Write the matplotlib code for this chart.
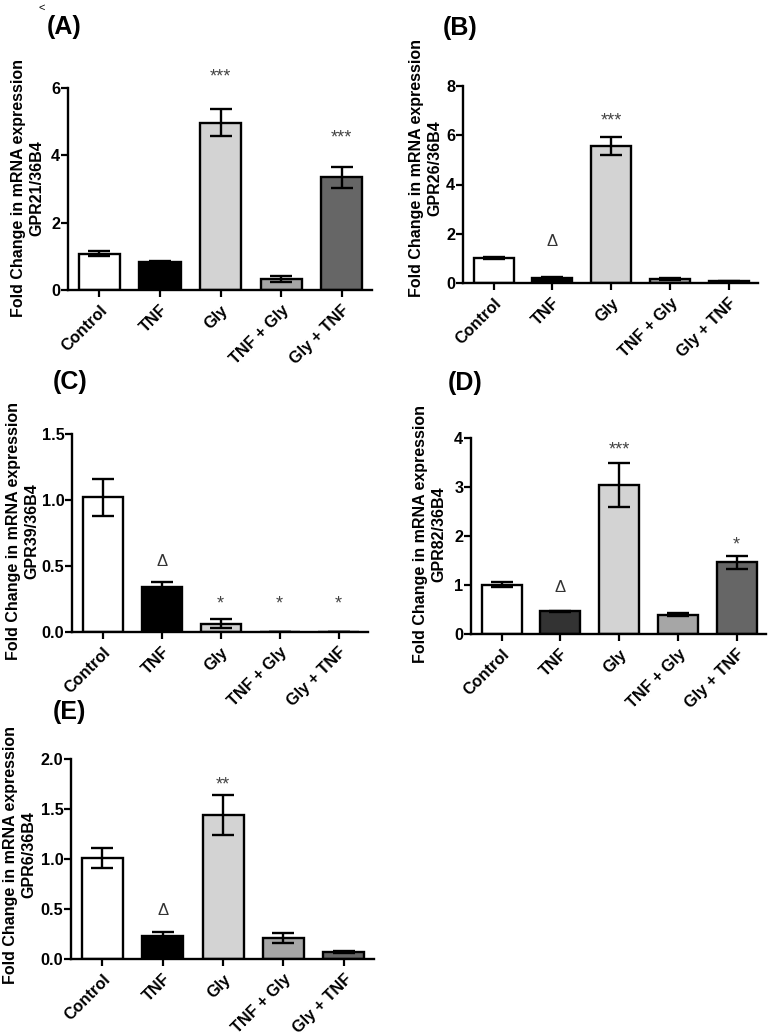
import matplotlib
matplotlib.use("Agg")
import matplotlib.pyplot as plt
import numpy as np

plt.rcParams["font.family"] = ["Liberation Sans", "DejaVu Sans"]
plt.rcParams["font.weight"] = "bold"

FIG_W, FIG_H = 771, 1034

CATEGORIES = ["Control", "TNF", "Gly", "TNF + Gly", "Gly + TNF"]

# panel A - GPR21
GPR21_MEAN = [1.08, 0.82, 4.97, 0.34, 3.35]
GPR21_SEM = [0.07, 0.04, 0.40, 0.09, 0.31]
GPR21_MARKS = ["", "", "***", "", "***"]
GPR21_MARK_Y = [0, 0, 6.5, 0, 4.7]

# panel B - GPR26
GPR26_MEAN = [1.01, 0.22, 5.56, 0.16, 0.07]
GPR26_SEM = [0.05, 0.03, 0.37, 0.04, 0.01]
GPR26_MARKS = ["", "\u0394", "***", "", ""]
GPR26_MARK_Y = [0, 1.73, 6.85, 0, 0]

# panel C - GPR39
GPR39_MEAN = [1.02, 0.34, 0.064, 0.0, 0.0]
GPR39_SEM = [0.14, 0.04, 0.035, 0.0, 0.0]
GPR39_MARKS = ["", "\u0394", "*", "*", "*"]
GPR39_MARK_Y = [0, 0.545, 0.26, 0.26, 0.26]

# panel D - GPR82
GPR82_MEAN = [1.01, 0.46, 3.04, 0.39, 1.46]
GPR82_SEM = [0.06, 0.01, 0.45, 0.03, 0.13]
GPR82_MARKS = ["", "\u0394", "***", "", "*"]
GPR82_MARK_Y = [0, 0.97, 3.88, 0, 1.94]

# panel E - GPR6
GPR6_MEAN = [1.01, 0.226, 1.44, 0.21, 0.07]
GPR6_SEM = [0.10, 0.04, 0.20, 0.05, 0.01]
GPR6_MARKS = ["", "\u0394", "**", "", ""]
GPR6_MARK_Y = [0, 0.5, 1.8, 0, 0]

BAR_COLORS = ["#ffffff", "#000000", "#d3d3d3", "#a6a6a6", "#666666"]
BAR_COLORS_D = ["#ffffff", "#333333", "#d3d3d3", "#a6a6a6", "#666666"]

fig = plt.figure(figsize=(FIG_W / 100, FIG_H / 100), dpi=100)


def px_axes(left, top, right, bottom):
    return fig.add_axes([left / FIG_W, 1 - bottom / FIG_H,
                         (right - left) / FIG_W, (bottom - top) / FIG_H])


def fig_text(x, y, s, **kw):
    fig.text(x / FIG_W, 1 - y / FIG_H, s, **kw)


def draw_panel(box, means, sems, marks, mark_y, ymax, yticks, colors,
               letter, letter_pos, ylabel, ylabel_pos):
    ax = px_axes(*box)
    x = np.arange(len(CATEGORIES))
    ax.bar(x, means, width=0.68, color=colors, edgecolor="black",
           linewidth=1.7, zorder=2)
    ax.errorbar(x, means, yerr=sems, fmt="none", ecolor="black",
                elinewidth=1.7, capsize=8, capthick=1.7, zorder=3)
    for xi, m, my in zip(x, marks, mark_y):
        if not m:
            continue
        if m == "\u0394":
            ax.annotate(m, xy=(xi, my), xytext=(0, -1),
                        textcoords="offset points", ha="center", va="center",
                        fontsize=12, fontweight="normal", color="#333333",
                        annotation_clip=False)
        else:
            # asterisks sit high in the glyph box, pull them down a bit
            ax.annotate(m, xy=(xi, my), xytext=(0, -4.5),
                        textcoords="offset points", ha="center", va="center",
                        fontsize=13, fontweight="normal", color="#444444",
                        annotation_clip=False)

    ax.set_xlim(-0.52, 4.5)
    ax.set_ylim(0, ymax)
    ax.set_yticks(yticks)
    ax.set_xticks(x)
    ax.set_xticklabels(CATEGORIES, rotation=45, ha="right",
                       rotation_mode="anchor")
    ax.spines["right"].set_visible(False)
    ax.spines["top"].set_visible(False)
    ax.spines["left"].set_linewidth(1.7)
    ax.spines["bottom"].set_linewidth(1.7)
    ax.tick_params(direction="out", length=5, width=1.6, labelsize=11.7,
                   pad=0.5)
    ax.tick_params(axis="x", pad=4)

    fig_text(letter_pos[0], letter_pos[1], letter, fontsize=18,
             fontweight="bold", ha="left", va="center")
    fig_text(ylabel_pos[0], ylabel_pos[1], ylabel, fontsize=11.5,
             fontweight="bold", rotation=90, ha="center", va="center",
             multialignment="center", linespacing=1.25)
    return ax


draw_panel((68, 88, 372, 290), GPR21_MEAN, GPR21_SEM, GPR21_MARKS,
           GPR21_MARK_Y, 6, [0, 2, 4, 6], BAR_COLORS, "(A)", (47, 27),
           "Fold Change in mRNA expression\nGPR21/36B4", (28, 188))

draw_panel((463, 86, 758, 283), GPR26_MEAN, GPR26_SEM, GPR26_MARKS,
           GPR26_MARK_Y, 8, [0, 2, 4, 6, 8], BAR_COLORS, "(B)", (443, 28),
           "Fold Change in mRNA expression\nGPR26/36B4", (426, 168))

draw_panel((72, 434, 368, 632), GPR39_MEAN, GPR39_SEM, GPR39_MARKS,
           GPR39_MARK_Y, 1.5, [0.0, 0.5, 1.0, 1.5], BAR_COLORS, "(C)",
           (53, 382), "Fold Change in mRNA expression\nGPR39/36B4", (23, 531))

draw_panel((471, 438, 766, 634), GPR82_MEAN, GPR82_SEM, GPR82_MARKS,
           GPR82_MARK_Y, 4, [0, 1, 2, 3, 4], BAR_COLORS_D, "(D)",
           (448, 383), "Fold Change in mRNA expression\nGPR82/36B4", (430, 534))

draw_panel((71, 759, 374, 959), GPR6_MEAN, GPR6_SEM, GPR6_MARKS,
           GPR6_MARK_Y, 2.0, [0.0, 0.5, 1.0, 1.5, 2.0], BAR_COLORS, "(E)",
           (53, 712), "Fold Change in mRNA expression\nGPR6/36B4", (20, 855))

fig_text(42, 8, "<", fontsize=8, fontweight="normal", ha="center", va="center")

fig.savefig("out.png", dpi=100)
